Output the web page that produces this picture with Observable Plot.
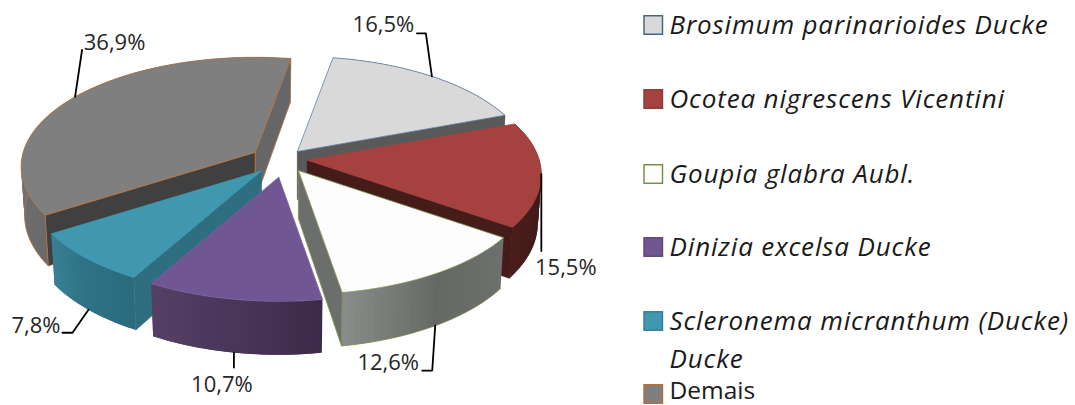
<!DOCTYPE html>
<html>
<head>
<meta charset="utf-8">
<script src="https://cdn.jsdelivr.net/npm/d3@7"></script>
<script src="https://cdn.jsdelivr.net/npm/@observablehq/plot@0.6"></script>
<style>html,body{margin:0;padding:0;background:#fff}svg{display:block}.legend-it text{letter-spacing:.85px}</style>
</head>
<body>
<div id="chart"></div>
<script>
// ---- data ----
const species = ["Brosimum parinarioides Ducke","Ocotea nigrescens Vicentini","Goupia glabra Aubl.","Dinizia excelsa Ducke","Scleronema micranthum (Ducke)\nDucke","Demais"];
const shares = [16.5, 15.5, 12.6, 10.7, 7.8, 36.9];
const topFill = ["#d9d9d9","#a5423f","#fdfdfd","#705692","#3f97b0","#7f7f7f"];
const edge = ["#5f7fa8","#a5423f","#7f9050","#7a6398","#3f97b0","#b8733a"];
const legendEdge = ["#385d8a","#8c3836","#71893f","#5c4776","#357d91","#b66d31"];
const nearCut = ["#595959","#451c19","#6c6e6c",null,"#2e6e80","#404040"];
const farCut = ["#595959","#451c19","#6c6e6c",null,"#2e6e80","#666666"];
const rimStops = [["#595959","#595959"],["#4a1e1b","#3e1a17","#4a1e1b"],["#6e706e","#666866","#8a8c8a"],["#3c2a4a","#4a3659","#553f66"],["#2a6b7e","#2f7286","#3a8095"],["#6a6a6a","#7a7a7a","#6a6a6a"]];
const leaderSteps = [[[-6,-43],[-9,0]],[[0,77]],[[-3,45],[-10,0]],[[0,15]],[[-16,23],[-10,0]],[[7,-47]]];
const labelOffset = [[-33.5,-8],[24.5,17],[-34,-8],[-12,17],[-26.5,-7],[32.5,-7]];
const legendRowY = [25,99,174,247,321,394];
const legendTextNudge = [0,0,0,0,0,-3.5];
const italicRow = [true,true,true,true,true,false];

// ---- projection of the exploded perspective pie ----
const W = 1075, H = 405;
const cx = 279, cy = 160, explodeX = 28, explodeY = 13;
const apexNudge = [[0,1],[0,-2],[4,-1],[4,4],[1,1],[-1,-1]];
const R = 232, Ry = 107.6, persp = 0.1323, depth = 48, shrink = 0.985, startDeg = 10;
const rad = d => d * Math.PI / 180;
const project = (deg, apex, r = 1, lower = false) => {
  const u = Math.sin(rad(deg)), v = Math.cos(rad(deg));
  const w = 1 / (1 + persp * v * r);
  const s = lower ? shrink : 1;
  return {
    x: apex.x + R * r * u * w * s,
    y: apex.y - Ry * r * v * w * s + (lower ? depth * w : 0)
  };
};
let acc = startDeg;
const slices = species.map((name, i) => {
  const a0 = acc, a1 = acc + shares[i] * 3.6; acc = a1;
  const mid = (a0 + a1) / 2;
  const apex = {
    x: cx + explodeX * Math.sin(rad(mid)) + apexNudge[i][0],
    y: cy - explodeY * Math.cos(rad(mid)) + apexNudge[i][1]
  };
  return {i, a0, a1, mid, apex};
});

const polys = [];
let pid = 0;
const addPoly = (pts, fill, stroke) => {
  const id = pid++;
  pts.forEach(p => polys.push({id, x: p.x, y: p.y, fill, stroke}));
};
const arc = (s, lower, from = s.a0, to = s.a1) => {
  const n = Math.max(2, Math.ceil(Math.abs(to - from) / 1.5));
  return d3.range(n + 1).map(k => project(from + (to - from) * k / n, s.apex, 1, lower));
};
const closed = pts => [...pts, pts[0]];
const cutWall = (s, deg, fill, stroke) => {
  const t = project(deg, s.apex), b = project(deg, s.apex, 1, true);
  const ta = project(deg, s.apex, 0), ba = project(deg, s.apex, 0, true);
  addPoly(closed([ta, t, b, ba]), fill, stroke);
};
const rimEdged = [false,false,true,false,false,true];
const cutEdged = [false,false,true,false,false,true];
const showNear = [false,false,false,false,true,true];  // wall along a slice's first cut
const showFar = [true,true,true,false,false,true];     // wall along its last cut

// painter's order, back to front
[5,0,1,2,4,3].forEach(i => {
  const s = slices[i];
  const color = d3.scaleLinear().domain(d3.range(rimStops[i].length).map(k => k / (rimStops[i].length - 1))).range(rimStops[i]);
  const n = Math.ceil((s.a1 - s.a0) / 1.5);
  d3.range(n).forEach(k => {
    const a = s.a0 + (s.a1 - s.a0) * k / n;
    const b = Math.min(s.a1, s.a0 + (s.a1 - s.a0) * (k + 1) / n + 1.5);
    const c = d3.color(color((k + .5) / n)).formatHex();
    addPoly(closed([project(a, s.apex), project(b, s.apex), project(b, s.apex, 1, true), project(a, s.apex, 1, true)]), c, "none");
  });
  if (rimEdged[i]) addPoly(arc(s, true), "none", edge[i]);
  if (showFar[i]) cutWall(s, s.a1, farCut[i], cutEdged[i] ? edge[i] : farCut[i]);
  if (showNear[i]) cutWall(s, s.a0, nearCut[i], cutEdged[i] ? edge[i] : nearCut[i]);
  addPoly(closed([s.apex, ...arc(s, false)]), topFill[i], edge[i]);
});

// leaders and percentage labels, anchored on the slice's rim
const leaderRows = [], labelRows = [];
slices.forEach(s => {
  const front = Math.cos(rad(s.mid)) < -0.3;
  let p = project(s.mid, s.apex, 1, front);
  leaderRows.push({id: s.i, x: p.x, y: p.y});
  leaderSteps[s.i].forEach(([dx, dy]) => {
    p = {x: p.x + dx, y: p.y + dy};
    leaderRows.push({id: s.i, x: p.x, y: p.y});
  });
  labelRows.push({
    x: p.x + labelOffset[s.i][0], y: p.y + labelOffset[s.i][1],
    t: shares[s.i].toFixed(1).replace(".", ",") + "%"
  });
});

// legend
const swatch = 18.5;
const swatchX = 644, legendTextX = 669, lineStep = 38;
const swatches = species.map((n, i) => ({
  x1: swatchX, x2: swatchX + swatch,
  y1: legendRowY[i] - swatch / 2, y2: legendRowY[i] + swatch / 2,
  fill: topFill[i], stroke: legendEdge[i]
}));
const legendLines = species.flatMap((n, i) => n.split("\n").map((t, k) => ({
  t, x: legendTextX, y: legendRowY[i] + legendTextNudge[i] + k * lineStep, italic: italicRow[i]
})));

const font = "'Open Sans', sans-serif";
const plot = Plot.plot({
  width: W, height: H,
  margin: 0,
  style: {background: "#fff"},
  x: {domain: [0, W], range: [0, W], axis: null},
  y: {domain: [0, H], range: [0, H], axis: null},
  marks: [
    Plot.line(polys, {x: "x", y: "y", z: "id", fill: "fill", stroke: "stroke", strokeWidth: 0.8, curve: "linear", strokeLinejoin: "round"}),
    Plot.line(leaderRows, {x: "x", y: "y", z: "id", stroke: "#000", strokeWidth: 1.8, curve: "linear", strokeLinejoin: "miter"}),
    Plot.text(labelRows, {x: "x", y: "y", text: "t", fontSize: 22, fontFamily: font, fill: "#262626", textAnchor: "middle"}),
    Plot.rect(swatches, {x1: "x1", x2: "x2", y1: "y1", y2: "y2", fill: "fill", stroke: "stroke", strokeWidth: 1.4, inset: 0}),
    Plot.text(legendLines.filter(d => d.italic), {x: "x", y: "y", text: "t", fontSize: 26, fontStyle: "italic", fontFamily: font, fill: "#1a1a1a", textAnchor: "start", className: "legend-it"}),
    Plot.text(legendLines.filter(d => !d.italic), {x: "x", y: "y", text: "t", fontSize: 24.5, fontFamily: font, fill: "#1a1a1a", textAnchor: "start"})
  ]
});
document.getElementById("chart").appendChild(plot);
</script>
</body>
</html>
